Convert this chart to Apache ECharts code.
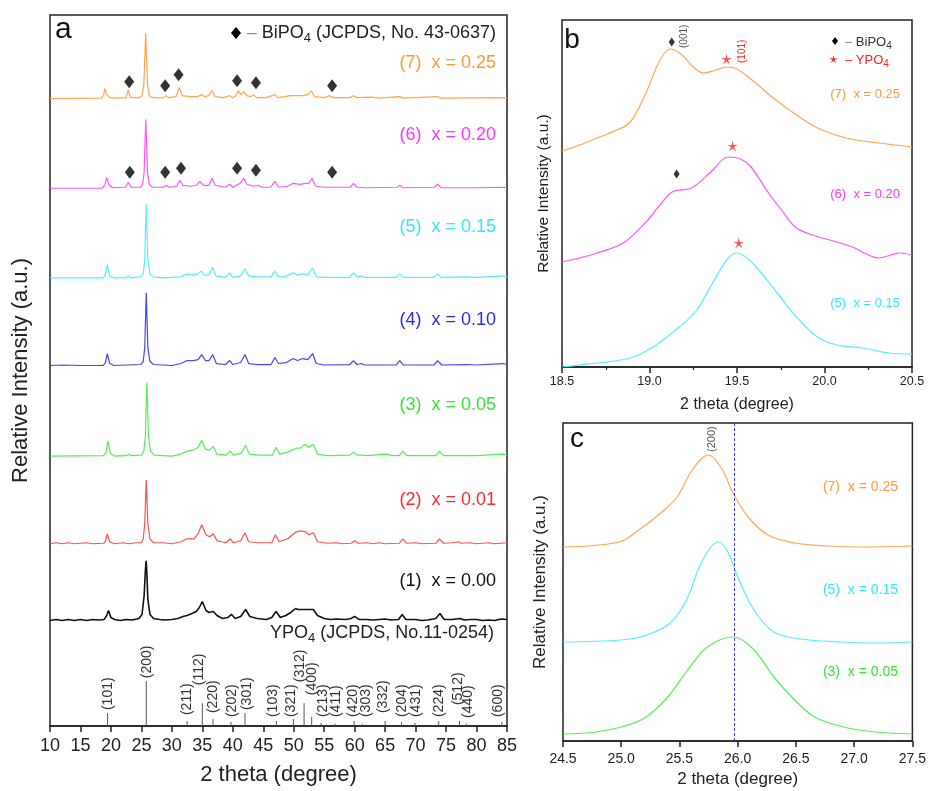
<!DOCTYPE html>
<html>
<head>
<meta charset="utf-8">
<script src="https://cdn.jsdelivr.net/npm/echarts@6/dist/echarts.min.js"></script>
<style>
  html, body { margin: 0; padding: 0; background: #fff; }
  #chart { width: 929px; height: 791px; }
</style>
</head>
<body>
<div id="chart"></div>
<script>
// ---- panel a : full XRD patterns (2 theta, relative intensity) ----
const sampleNames = ['(7)  x = 0.25', '(6)  x = 0.20', '(5)  x = 0.15', '(4)  x = 0.10', '(3)  x = 0.05', '(2)  x = 0.01', '(1)  x = 0.00'];
const stackShift = [630, 540, 450, 362, 271, 183, 106];

const xrd7 = [[10,0],[18.5,0.5],[18.8,4],[19.0,10],[19.3,4],[19.8,1],[21,0.5],[22.5,1],[22.85,9],[23.2,1],[24.6,1],[25.1,3],[25.4,14],[25.58,45],[25.7,66],[25.82,45],[26.0,14],[26.3,3],[26.8,1],[28.5,0.5],[29.0,3],[29.4,1],[30.7,2],[31.2,11],[31.7,3],[33,2],[34.2,2],[34.9,4],[35.4,2],[36.0,3],[36.6,8],[37.1,2],[38.5,1],[39.5,3],[40.0,1],[40.5,3],[40.9,8],[41.3,4],[41.8,7],[42.3,3],[43.0,2],[43.4,4],[43.9,1],[45.5,1],[46.9,4],[47.4,1],[48.5,2],[49.5,3],[50.5,3],[51.5,3],[52.3,4],[52.9,8],[53.4,2],[55,1],[55.9,3],[56.5,1],[59.2,1],[59.8,3],[60.4,1],[62.8,1.5],[64,0.5],[67.4,2],[68,0.5],[73.6,2],[74.2,0.5],[84.4,1],[85,0.5]];
const xrd6 = [[10,0],[18.5,0],[19.0,3],[19.3,11],[19.7,3],[20.3,0.5],[22.4,1],[22.85,6],[23.3,1],[24.8,1],[25.2,4],[25.45,16],[25.6,48],[25.72,69],[25.84,48],[26.0,16],[26.3,4],[26.8,1],[28.6,1],[29.1,3],[29.5,1],[30.8,2],[31.3,8],[31.8,3],[33,2],[34.0,3],[34.6,7],[35.2,3],[36.1,3],[36.6,10],[37.1,3],[38.8,1],[39.5,4],[40.0,1],[40.6,3],[41.2,5],[41.8,10],[42.3,4],[43.5,2],[44.2,3],[44.7,1],[46.2,1],[46.9,7],[47.5,1],[49.0,2],[49.9,5],[51.0,4],[52.0,5],[52.5,5],[53.0,10],[53.6,2],[55,1],[56.5,1],[59.3,1],[59.8,5],[60.4,1],[62,0.5],[67.0,1],[67.4,3],[67.9,0.5],[73.1,1],[73.6,4],[74.2,0.5],[80,0.5],[84.4,1],[85,0.5]];
const xrd5 = [[10,0],[18.7,0],[19.1,3],[19.4,13],[19.8,2],[20.5,0],[22.5,0],[22.85,2],[23.2,0],[24.9,1],[25.3,4],[25.55,18],[25.69,50],[25.8,74],[25.91,50],[26.06,18],[26.4,4],[27,1],[28.5,0],[30,0.5],[31.5,1],[32.5,4],[33.5,3],[34.3,4],[34.8,7],[35.3,3],[36.1,3],[36.7,11],[37.2,2],[38.8,0.5],[39.5,5],[40.0,0.5],[41.3,2],[42.0,9],[42.6,2],[44.0,1],[46.3,1],[46.9,7],[47.5,1],[48.5,1],[49.9,5],[50.6,3],[51.5,4],[52.3,3],[53.1,10],[53.7,1],[55,0.5],[59.2,0.5],[59.8,5],[60.4,1],[61.1,2],[61.6,0.5],[66.8,0.5],[67.4,4],[68,0.5],[73,0.5],[73.6,4],[74.2,0.5],[78.4,1],[80,0.5],[84.4,2],[85,1]];
const xrd4 = [[10,0],[12,0.5],[15,0],[18.7,0],[19.1,3],[19.4,12],[19.8,2],[20.5,0],[24.9,1],[25.3,4],[25.55,18],[25.69,50],[25.8,73],[25.91,50],[26.06,18],[26.4,4],[27,1],[30,0],[31.5,2],[32.5,5],[33.5,5],[34.3,6],[34.9,11],[35.5,5],[36.1,5],[36.7,11],[37.3,2],[38.8,1],[39.5,5],[40.0,1],[41.3,3],[42.0,11],[42.6,2],[44.0,1],[46.3,1],[46.9,8],[47.5,2],[48.8,3],[49.9,7],[50.6,5],[51.5,7],[52.3,6],[53.1,12],[53.7,2],[55,0.5],[59.2,1],[59.8,5],[60.4,1],[61.1,2],[61.6,0.5],[66.8,0.5],[67.4,5],[68,0.5],[73,0.5],[73.6,5],[74.3,0.5],[78.4,1],[80,0.5],[84.4,2],[85,1]];
const xrd3 = [[10,0],[18.8,0.5],[19.2,4],[19.5,15],[19.9,3],[20.6,0],[22.5,0.5],[22.9,2],[23.3,0.5],[25,1],[25.4,5],[25.65,20],[25.79,52],[25.9,74],[26.01,52],[26.16,20],[26.5,5],[27.1,1],[30,0],[31.5,2],[32.5,5],[33.5,6],[34.3,9],[34.9,16],[35.5,7],[36.2,6],[36.8,10],[37.4,2],[38.9,1],[39.6,5],[40.1,1],[41.4,3],[42.1,11],[42.7,2],[44.2,1],[46.5,1],[47.1,9],[47.7,2],[49.0,4],[50.4,8],[51.1,8],[51.8,12],[52.5,9],[53.2,12],[53.9,2],[55.5,0.5],[59.2,1],[59.8,4],[60.4,1],[61.1,1],[62,0.5],[65.2,2],[66,0.5],[67.3,0.5],[67.9,5],[68.5,0.5],[73.3,0.5],[73.9,5],[74.6,0.5],[80,0.5],[84.4,2],[85,1]];
const xrd2 = [[10,0],[11,1],[12,0],[13,1],[14,0],[16,1],[17,0],[18.8,0.5],[19.1,3],[19.4,10],[19.8,2],[20.6,0],[22,1],[23,0],[24,1],[25,1],[25.3,5],[25.55,20],[25.69,46],[25.8,64],[25.91,46],[26.06,20],[26.4,5],[27,1],[28.5,1],[30,0],[31.5,2],[32.5,5],[33.6,5],[34.3,10],[34.9,19],[35.6,9],[36.2,7],[36.8,10],[37.4,3],[38.9,1],[39.6,5],[40.1,1],[41.3,3],[42.0,11],[42.6,2],[44.2,1],[46.4,1],[47.0,9],[47.6,2],[49.0,5],[50.4,12],[51.2,13],[52.0,12],[52.5,9],[53.2,11],[53.9,2],[55.5,0.5],[57,1],[58,0],[59.4,0.5],[60,3],[60.6,0.5],[62,1],[63,0],[64,1],[65,0],[67.3,0.5],[67.9,5],[68.5,0.5],[70,1],[71,0],[73.3,0.5],[73.9,5],[74.6,0.5],[76,1],[77,2],[77.5,0.5],[79,1],[80,0],[82,1],[83,0],[85,1]];
const xrd1 = [[10,0],[11,1],[12,0],[13,1],[14,0],[15,1],[16,0],[17,1],[18,0.5],[18.9,1],[19.3,5],[19.6,10],[20,3],[20.6,1],[21.5,0],[22.5,1],[23.5,0.5],[24.6,2],[25.1,6],[25.45,25],[25.65,50],[25.78,60],[25.9,48],[26.05,22],[26.4,6],[27,2],[28,1],[29,0.5],[30,1],[31,2],[31.8,4],[32.5,5],[33.3,7],[34.0,9],[34.5,13],[35.0,19],[35.6,10],[36.1,8],[36.8,9],[37.4,5],[38.3,2],[39.2,3],[39.8,6],[40.4,2],[41.3,4],[42.1,11],[42.8,4],[44,2],[45.5,1],[46.4,3],[47.1,9],[47.8,3],[48.7,5],[49.5,8],[50.3,12],[50.7,11],[51,13],[51.4,11],[51.7,12],[52.1,11],[52.4,13],[53.2,11],[53.9,5],[55,2],[56,1],[57,1.5],[58.5,1],[59.4,2],[60.0,4],[60.7,1],[62,1],[63,0.5],[64,1],[65,1.5],[66,0.5],[67.2,1],[67.8,6],[68.4,1],[70,1],[71,0],[72,0.5],[73.3,2],[74.0,7],[74.7,1],[76,1],[77.3,2],[78,0.5],[79,1],[80,1],[81,0],[82,0.5],[83,0],[84,1.5],[85,1]];
const xrdTraces = [xrd7, xrd6, xrd5, xrd4, xrd3, xrd2, xrd1];

// BiPO4 reflections marked on traces (7) and (6)
const bipo7Marks = [[23.0,17],[28.9,13],[31.1,24],[40.7,18],[43.8,16],[56.3,13]];
const bipo6Marks = [[23.1,16],[28.9,16],[31.5,20],[40.7,20],[43.8,18],[56.3,16]];

// YPO4 reference pattern JCPDS 11-0254
const ypoPos = [19.45, 25.8, 32.5, 35.0, 36.75, 39.7, 42.0, 47.15, 49.95, 51.7, 52.95, 54.5, 56.85, 59.9, 61.25, 65.0, 67.7, 69.9, 73.8, 77.2, 78.35, 84.15];
const ypoHeight = [13, 45, 5, 23, 7, 4, 13, 5, 7, 23, 9, 3, 2, 5, 2, 5, 4, 3, 5, 5, 2, 4];
const ypoHkl = ['(101)','(200)','(211)','(112)','(220)','(202)','(301)','(103)','(321)','(312)','(400)','(213)','(411)','(420)','(303)','(332)','(204)','(431)','(224)','(512)','(440)','(600)'];
const ypoLabelAt = [19.55, 25.9, 32.45, 34.5, 36.85, 39.85, 42.3, 46.6, 49.6, 51.0, 53.1, 54.85, 57.0, 59.75, 61.95, 64.75, 67.8, 70.1, 73.9, 76.95, 78.6, 83.6];
const ypoLabelBase = [16, 48, 11, 41, 13, 9, 16, 9, 9, 44, 31, 9, 9, 9, 9, 13, 9, 9, 9, 21, 8, 9];

// ---- panel b : 18.5-20.5 region ----
const peakB7 = [[18.5,216],[18.6,222],[18.7,229],[18.8,236],[18.89,245],[18.98,274],[19.06,307],[19.12,318],[19.18,313],[19.25,300],[19.31,294],[19.38,297],[19.44,300],[19.5,298],[19.6,285],[19.7,270],[19.84,252],[19.95,240],[20.03,234],[20.15,228],[20.31,224],[20.5,220]];
const peakB6 = [[18.5,105],[18.6,109],[18.7,114],[18.85,124],[18.98,145],[19.05,160],[19.13,175],[19.24,179],[19.35,195],[19.45,210],[19.52,208],[19.58,200],[19.68,174],[19.75,158],[19.84,139],[19.95,131],[20.03,127],[20.16,120],[20.24,113],[20.31,109],[20.38,112],[20.43,114],[20.5,112]];
const peakB5 = [[18.5,0],[18.6,2],[18.7,4],[18.89,9],[19.02,20],[19.17,40],[19.27,57],[19.38,90],[19.45,109],[19.5,114],[19.55,110],[19.61,100],[19.73,74],[19.84,50],[19.96,30],[20.07,22],[20.22,19],[20.37,14],[20.5,13]];
const bDiamonds = [[19.127,325],[19.155,193]];
const bStars = [[19.44,308],[19.475,221],[19.51,124]];
const bHkl = [[19.20,319,'(001)'],[19.53,304,'(101)']];

// ---- panel c : 24.5-27.5 region ----
const peakC7 = [[24.5,194],[24.98,199],[25.15,211],[25.35,229],[25.48,244],[25.61,271],[25.75,286],[25.86,273],[25.96,248],[26.09,224],[26.26,206],[26.49,198],[26.77,195],[27.05,194],[27.5,195]];
const peakC5 = [[24.5,99],[25.0,101],[25.22,106],[25.42,118],[25.56,141],[25.67,174],[25.77,194],[25.84,199],[25.92,188],[26.0,164],[26.14,131],[26.31,109],[26.54,102],[26.9,99],[27.19,98],[27.5,99]];
const peakC3 = [[24.5,7],[24.78,9],[25.0,14],[25.2,23],[25.4,44],[25.57,71],[25.74,94],[25.96,104],[26.14,91],[26.31,64],[26.49,41],[26.66,24],[26.91,14],[27.19,9],[27.5,7]];
const cHkl = [[25.775,289,'(200)']];
const cRefLine = 25.97;

// ---- styles ----
const FONT = '"Liberation Sans", Arial, sans-serif';
const labelColors = ['#FF9933', '#FF33FF', '#33E6FF', '#2B2BE6', '#33E633', '#FF2A2A', '#111111'];
const lineColors = ['#FFA552', '#FF55FF', '#55EEFF', '#4545EE', '#55EE55', '#FF5050', '#111111'];
// 5-armed star outline on a 100x100 box
const starPts = [[50,0],[58.2,38.7],[97.6,34.5],[63.3,54.3],[79.4,90.5],[50,64],[20.6,90.5],[36.7,54.3],[2.4,34.5],[41.8,38.7]];
const starPath = 'path://M' + starPts.map(function (p) { return p[0] + ',' + p[1]; }).join(' L') + ' Z';

let chart = echarts.init(document.getElementById('chart'), null, {renderer: 'canvas'});

function xAxisOf(gridIndex, min, max, interval, labelSize, nameSize, margin, gap, decimals, minor) {
    return {
        gridIndex: gridIndex, type: 'value', min: min, max: max, interval: interval,
        name: '2 theta (degree)', nameLocation: 'middle', nameGap: gap,
        nameTextStyle: {fontFamily: FONT, fontSize: nameSize, color: '#222'},
        axisLine: {lineStyle: {color: '#222', width: 1.5}},
        axisTick: {length: 6, lineStyle: {color: '#222', width: 1.5}},
        minorTick: {show: !!minor, splitNumber: 2, length: 3, lineStyle: {color: '#222', width: 1.2}},
        axisLabel: {fontFamily: FONT, fontSize: labelSize, color: '#222', margin: margin,
            formatter: function (v) { return v.toFixed(decimals); }},
        splitLine: {show: false}
    };
}
function yAxisOf(gridIndex, max, nameSize, gap) {
    return {
        gridIndex: gridIndex, type: 'value', min: 0, max: max,
        name: 'Relative Intensity (a.u.)', nameLocation: 'middle', nameGap: gap,
        nameTextStyle: {fontFamily: FONT, fontSize: nameSize, color: '#222'},
        axisLine: {show: false}, axisTick: {show: false}, axisLabel: {show: false}, splitLine: {show: false}
    };
}
function traceSeries(data, xi, color, width) {
    return {
        type: 'line', xAxisIndex: xi, yAxisIndex: xi, data: data, showSymbol: false,
        smooth: xi === 0 ? false : 0.35, lineStyle: {color: color, width: width}, silent: true, z: 3
    };
}
function rotatedText(xi, items, colorFn, size) {
    return {
        type: 'custom', xAxisIndex: xi, yAxisIndex: xi, data: items.map(function (d) { return [d[0], d[1]]; }),
        silent: true, z: 4,
        renderItem: function (params, api) {
            const p = api.coord([api.value(0), api.value(1)]);
            return {
                type: 'text', x: p[0], y: p[1], rotation: Math.PI / 2,
                style: {text: items[params.dataIndex][2], fill: colorFn(params.dataIndex),
                    fontFamily: FONT, fontSize: size, align: 'left', verticalAlign: 'middle'}
            };
        }
    };
}

let series = [];
// panel a traces
xrdTraces.forEach(function (tr, i) {
    series.push(traceSeries(tr.map(function (p) { return [p[0], p[1] + stackShift[i]]; }), 0, lineColors[i], i === 6 ? 1.6 : 1.2));
});
series.push({
    type: 'scatter', xAxisIndex: 0, yAxisIndex: 0, symbol: 'diamond', symbolSize: [10, 13],
    itemStyle: {color: '#000'}, silent: true, z: 5,
    data: bipo7Marks.map(function (p) { return [p[0], p[1] + stackShift[0]]; })
        .concat(bipo6Marks.map(function (p) { return [p[0], p[1] + stackShift[1]]; }))
});
// YPO4 sticks
series.push({
    type: 'custom', xAxisIndex: 0, yAxisIndex: 0, silent: true, z: 3,
    data: ypoPos.map(function (p, i) { return [p, ypoHeight[i]]; }),
    renderItem: function (params, api) {
        const top = api.coord([api.value(0), api.value(1)]);
        const bot = api.coord([api.value(0), 0]);
        return {type: 'line', shape: {x1: bot[0], y1: bot[1], x2: top[0], y2: top[1]},
            style: {stroke: '#555', lineWidth: 1}};
    }
});
series.push(rotatedText(0, ypoLabelAt.map(function (p, i) { return [p, ypoLabelBase[i], ypoHkl[i]]; }),
    function () { return '#333'; }, 14));

// panel b
[peakB7, peakB6, peakB5].forEach(function (tr, i) {
    series.push(traceSeries(tr, 1, lineColors[i], 1.2));
});
series.push({type: 'scatter', xAxisIndex: 1, yAxisIndex: 1, symbol: 'diamond', symbolSize: [6, 9],
    itemStyle: {color: '#000'}, silent: true, z: 5, data: bDiamonds});
series.push({type: 'scatter', xAxisIndex: 1, yAxisIndex: 1, symbol: starPath, symbolSize: 11,
    itemStyle: {color: '#FF2020'}, silent: true, z: 5, data: bStars});
series.push(rotatedText(1, bHkl, function (i) { return i === 0 ? '#555' : '#FF2020'; }, 10));

// panel c
[peakC7, peakC5, peakC3].forEach(function (tr, i) {
    series.push(traceSeries(tr, 2, lineColors[[0, 2, 4][i]], 1.2));
});
series[series.length - 1].markLine = {
    silent: true, symbol: 'none', label: {show: false},
    lineStyle: {color: '#3A3AE0', type: [3, 2], width: 1},
    data: [{xAxis: cRefLine}]
};
series.push(rotatedText(2, cHkl, function () { return '#555'; }, 11));

function txt(x, y, text, color, size, align, extra) {
    let o = {type: 'text', x: x, y: y, silent: true, z: 10,
        style: {text: text, fill: color, fontFamily: FONT, fontSize: size, align: align || 'left', verticalAlign: 'middle'}};
    if (extra) Object.assign(o.style, extra);
    return o;
}
const subRich = function (size, sub, color) {
    return {rich: {
        t: {fontFamily: FONT, fontSize: size, fill: color, color: color},
        g: {fontFamily: FONT, fontSize: size, fill: '#888', color: '#888'},
        s: {fontFamily: FONT, fontSize: sub, fill: color, color: color, padding: [Math.round(sub * 0.8), 0, 0, 0]}
    }};
};

let graphic = [
    txt(55, 30, 'a', '#111', 30),
    {type: 'polygon', silent: true, z: 10, shape: {points: [[236, 27], [241, 33], [236, 39], [231, 33]]}, style: {fill: '#000'}},
    txt(496, 33, '{g|– }{t|BiPO}{s|4}{t| (JCPDS, No. 43-0637)}', '#222', 18, 'right', subRich(18, 13, '#222')),
    txt(494, 633, '{t|YPO}{s|4}{t| (JCPDS, No.11-0254)}', '#222', 18, 'right', subRich(18, 13, '#222')),
    txt(572, 40, 'b', '#111', 28, 'center'),
    {type: 'polygon', silent: true, z: 10, shape: {points: [[835, 37], [838, 41], [835, 45], [832, 41]]}, style: {fill: '#000'}},
    txt(845, 42, '{g|– }{t|BiPO}{s|4}', '#333', 13, 'left', subRich(13, 10, '#333')),
    txt(845, 60, '{t|– YPO}{s|4}', '#FF2020', 13, 'left', subRich(13, 10, '#FF2020')),
    txt(577, 439, 'c', '#111', 28, 'center'),
    {type: 'polygon', silent: true, z: 10, style: {fill: '#FF2020'},
        shape: {points: starPts.map(function (p) { return [829 + p[0] * 0.09, 55 + p[1] * 0.09]; })}}
];
const aLabelY = [63, 135, 227, 320, 405, 500, 581];
sampleNames.forEach(function (n, i) {
    graphic.push(txt(496, aLabelY[i], n, labelColors[i], 18, 'right'));
});
[[0, 94], [1, 194], [2, 303]].forEach(function (d) {
    graphic.push(txt(900, d[1], sampleNames[d[0]], labelColors[d[0]], 13, 'right'));
});
[[0, 487], [2, 590], [4, 672]].forEach(function (d) {
    graphic.push(txt(898, d[1], sampleNames[d[0]], labelColors[d[0]], 14, 'right'));
});

const option = {
    animation: false,
    backgroundColor: '#fff',
    grid: [
        {left: 50, top: 15, width: 457, height: 714, show: true, borderColor: '#222', borderWidth: 1.5},
        {left: 562, top: 20, width: 350, height: 347, show: true, borderColor: '#222', borderWidth: 1.5},
        {left: 563, top: 423, width: 353, height: 318, show: true, borderColor: '#222', borderWidth: 1.5}
    ],
    xAxis: [
        xAxisOf(0, 10, 85, 5, 18, 22, 11, 38, 0, false),
        xAxisOf(1, 18.5, 20.5, 0.5, 12.5, 16, 8, 30, 1, true),
        xAxisOf(2, 24.5, 27.5, 0.5, 14, 17, 11, 30, 1, false)
    ],
    yAxis: [
        yAxisOf(0, 714, 22, 18),
        yAxisOf(1, 347, 15.5, 10),
        yAxisOf(2, 318, 17, 14)
    ],
    series: series,
    graphic: graphic
};
chart.setOption(option);
</script>
</body>
</html>
